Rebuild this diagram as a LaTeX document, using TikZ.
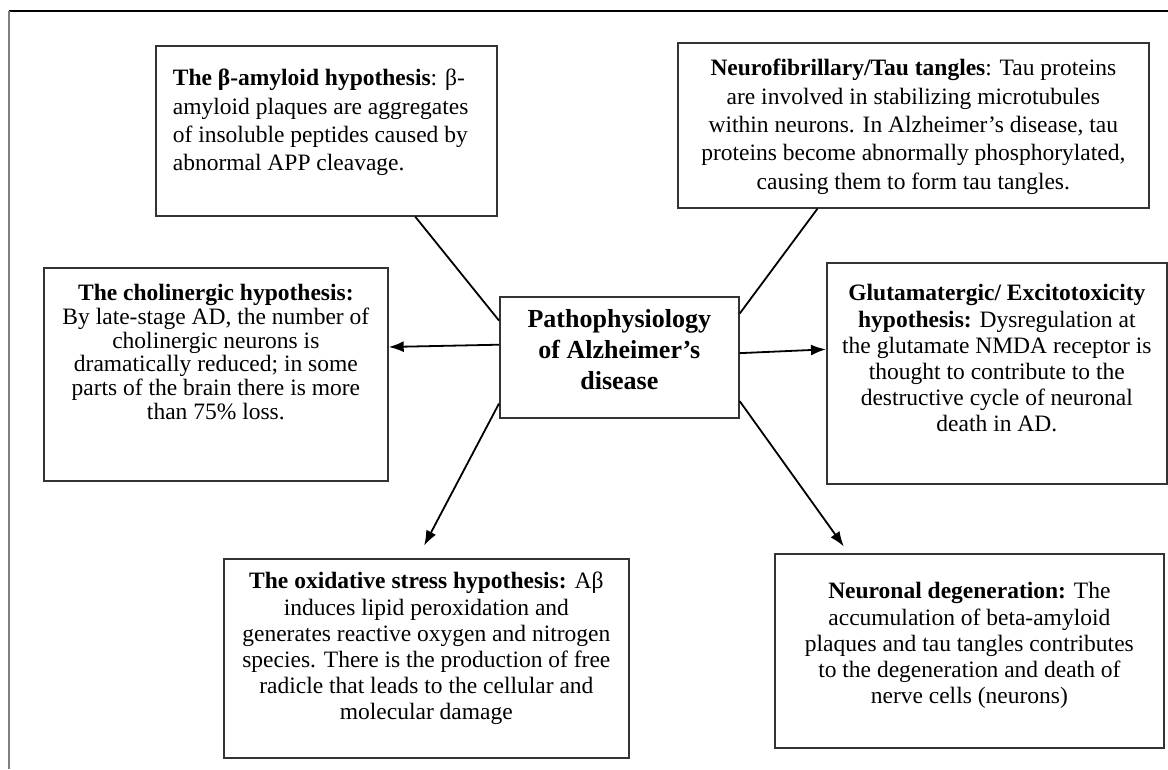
\documentclass[tikz,border=0pt]{standalone}
\usepackage{fontspec}
\setmainfont{Liberation Serif}
\usetikzlibrary{arrows.meta}

% box text: width, height, first baseline, text
\newcommand{\boxtext}[4]{\parbox[c][#2][t]{#1}{\centering\vspace*{\dimexpr#3-18pt\relax}\rule{0pt}{18pt}#4\par}}

\tikzset{
  hypbox/.style={draw=black!80, line width=1.7pt, inner sep=0pt, anchor=north west,
    font=\fontsize{23.5}{26.2}\selectfont},
  link/.style={line width=1.8pt},
  arrow/.style={link, -{Latex[length=15pt,width=11pt]}},
}

\begin{document}
\begin{tikzpicture}[x=1pt, y=-1pt]
\useasboundingbox (0,0) rectangle (1168,769);

% frame
\draw[line width=1.2pt] (1168,11) -- (9,11);
\draw[black!50, line width=2.5pt] (9,11) -- (9,769);

% nodes
\node[hypbox, font=\fontsize{26}{30.7}\selectfont\bfseries] (patho) at (499,296)
  {\boxtext{239pt}{121pt}{31pt}{Pathophysiology\\of Alzheimer’s\\disease}};
\node[hypbox, font=\fontsize{23.5}{28.3}\selectfont] (amyloid) at (155,45)
  {\boxtext{341pt}{170pt}{40pt}{\raggedright\leftskip=17pt \textbf{The β-amyloid hypothesis}: β-\\amyloid plaques are aggregates\\of insoluble peptides caused by\\abnormal APP cleavage.}};
\node[hypbox, font=\fontsize{23.5}{28.3}\selectfont] (tau) at (677,42)
  {\boxtext{471pt}{165pt}{33pt}{\textbf{Neurofibrillary/Tau tangles}: Tau proteins\\are involved in stabilizing microtubules\\within neurons. In Alzheimer’s disease, tau\\proteins become abnormally phosphorylated,\\causing them to form tau tangles.}};
\node[hypbox, font=\fontsize{23.5}{23.7}\selectfont] (choline) at (43,267)
  {\boxtext{344pt}{213pt}{33pt}{\textbf{The cholinergic hypothesis:}\\By late-stage AD, the number of\\cholinergic neurons is\\dramatically reduced; in some\\parts of the brain there is more\\than 75\% loss.}};
\node[hypbox] (glutamate) at (826,262)
  {\boxtext{340pt}{221pt}{38pt}{\textbf{Glutamatergic/ Excitotoxicity}\\\textbf{hypothesis:} Dysregulation at\\the glutamate NMDA receptor is\\thought to contribute to the\\destructive cycle of neuronal\\death in AD.}};
\node[hypbox] (oxidative) at (223,558)
  {\boxtext{405pt}{199pt}{30pt}{\textbf{The oxidative stress hypothesis:} Aβ\\induces lipid peroxidation and\\generates reactive oxygen and nitrogen\\species. There is the production of free\\radicle that leads to the cellular and\\molecular damage}};
\node[hypbox] (neuronal) at (774,553)
  {\boxtext{389pt}{194pt}{45pt}{\textbf{Neuronal degeneration:} The\\accumulation of beta-amyloid\\plaques and tau tangles contributes\\to the degeneration and death of\\nerve cells (neurons)}};

% lines
\path (amyloid.-44.5) edge[link] (patho.163);
\path (tau.-139) edge[link] (patho.20);

% arrows
\path (patho.174.5) edge[arrow] (choline.9.4);
\path (patho.2.6) edge[arrow] (glutamate.172.2);
\path (patho.-159) edge[arrow, shorten >=14pt] (oxidative.95.7);
\path (patho.-20.8) edge[arrow, shorten >=8pt] (neuronal.141.4);

\end{tikzpicture}
\end{document}
